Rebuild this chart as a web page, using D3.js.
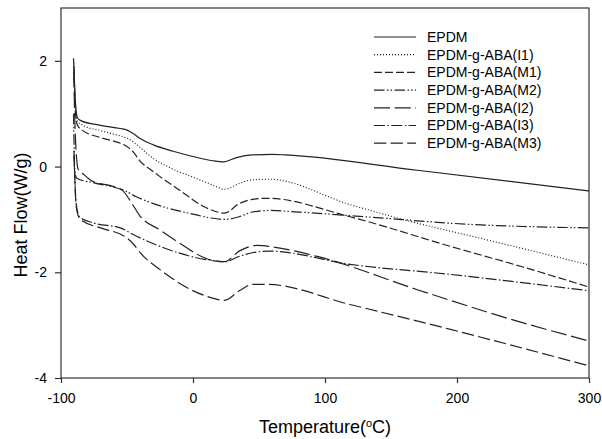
<!DOCTYPE html>
<html>
<head>
<meta charset="utf-8">
<script src="https://cdn.jsdelivr.net/npm/d3@7"></script>
<style>
  body { margin: 0; background: #fff; }
  text { font-family: "Liberation Sans", Arial, sans-serif; fill: #000; }
</style>
</head>
<body>
<div id="graph1"></div>
<script>
// series names as in the legend
const seriesNames = ["EPDM", "EPDM-g-ABA(I1)", "EPDM-g-ABA(M1)", "EPDM-g-ABA(M2)",
                     "EPDM-g-ABA(I2)", "EPDM-g-ABA(I3)", "EPDM-g-ABA(M3)"];

// [temperature, heat flow]
const epdm = [[-90.5,2.05],[-89,1.2],[-87.5,0.92],[-85,0.87],[-70,0.78],[-55,0.72],[-50,0.69],[-45,0.62],
  [-40,0.53],[-30,0.41],[-15,0.29],[0,0.19],[15,0.11],[23,0.09],[33,0.17],[45,0.22],[60,0.23],[70,0.22],
  [170,-0.07],[300,-0.46]];
const i1 = [[-90.3,1.95],[-89,1.1],[-87.5,0.86],[-84,0.79],[-70,0.68],[-55,0.58],[-50,0.54],[-40,0.36],
  [-32,0.19],[-15,-0.05],[0,-0.2],[15,-0.35],[24,-0.43],[35,-0.32],[45,-0.25],[58,-0.24],[119,-0.72],
  [159,-1.0],[230,-1.43],[300,-1.86]];
const m1 = [[-90.2,1.9],[-89,1.0],[-87.5,0.78],[-84,0.69],[-70,0.55],[-55,0.44],[-50,0.38],[-45,0.27],
  [-40,0.1],[-32,-0.06],[-25,-0.19],[-10,-0.45],[10,-0.78],[24,-0.88],[35,-0.7],[45,-0.62],[56,-0.6],
  [119,-0.95],[195,-1.51],[250,-1.9],[300,-2.28]];
const m2 = [[-90.5,1.0],[-89.5,-0.1],[-88,-0.22],[-75,-0.31],[-60,-0.39],[-53,-0.44],[-43,-0.57],[-30,-0.7],
  [-20,-0.78],[0,-0.9],[13,-0.97],[24,-1.0],[35,-0.95],[45,-0.86],[58,-0.83],[80,-0.86],[131,-0.95],
  [207,-1.09],[300,-1.16]];
const i2 = [[-90.4,1.8],[-89,0.5],[-87,-0.05],[-84,-0.12],[-76,-0.28],[-60,-0.38],[-53,-0.46],[-48,-0.63],
  [-40,-0.94],[-25,-1.2],[-10,-1.45],[10,-1.74],[24,-1.8],[35,-1.6],[49,-1.49],[60,-1.52],[94,-1.7],
  [170,-2.33],[245,-2.92],[300,-3.3]];
const i3 = [[-90.2,0.3],[-88.5,-0.7],[-86,-0.95],[-75,-1.07],[-55,-1.16],[-45,-1.29],[-25,-1.51],[10,-1.76],
  [24,-1.8],[35,-1.7],[45,-1.63],[58,-1.6],[119,-1.85],[195,-2.04],[300,-2.35]];
const m3 = [[-90.1,0.2],[-88.5,-0.75],[-86,-0.98],[-83,-1.04],[-70,-1.16],[-50,-1.35],[-45,-1.47],[-40,-1.63],
  [-25,-1.95],[10,-2.45],[24,-2.53],[35,-2.35],[45,-2.23],[56,-2.23],[119,-2.61],[195,-3.08],[300,-3.77]];

const xTicks = [-100, 0, 100, 200, 300];
const yTicks = [-4, -2, 0, 2];

const seriesData = [epdm, i1, m1, m2, i2, i3, m3];
const dashes = ["none", "1,2", "8,3", "10.5,2.5,1.5,2,1.5,2.5", "16,4.7", "11,2.5,1.5,2.3", "12.3,4.3"];

const margin = {top: 8, right: 13, bottom: 61, left: 61},
  width = 602 - margin.left - margin.right,
  height = 439 - margin.top - margin.bottom;

var svg = d3.select("#graph1")
  .append("svg")
  .attr("width", 602)
  .attr("height", 439)
  .append("g")
  .attr("transform", "translate(" + margin.left + "," + margin.top + ")");

var x = d3.scaleLinear().domain([-100, 300]).range([0, width]);
var y = d3.scaleLinear().domain([-4, 3]).range([height, 0]);

// frame
svg.append("rect")
  .attr("width", width)
  .attr("height", height)
  .attr("fill", "none")
  .attr("stroke", "#333")
  .attr("stroke-width", 1.2);

// plain hyphen for negatives, no decimals
var fmt = d => String(d);

svg.append("g")
  .attr("transform", "translate(0," + height + ")")
  .call(d3.axisBottom(x).tickValues(xTicks).tickFormat(fmt).tickSize(5).tickSizeOuter(0).tickPadding(10));
svg.append("g")
  .call(d3.axisLeft(y).tickValues(yTicks).tickFormat(fmt).tickSize(6).tickSizeOuter(0).tickPadding(8));

svg.selectAll(".domain").remove();
svg.selectAll(".tick line").attr("stroke", "#333").attr("stroke-width", 1.2);
svg.selectAll(".tick text")
  .style("font-size", "14px")
  .style("font-family", "'Liberation Sans', Arial, sans-serif")
  .attr("fill", "#000");

// curves
var line = d3.line()
  .x(d => x(d[0]))
  .y(d => y(d[1]))
  .curve(d3.curveMonotoneX);

svg.selectAll("path.curve")
  .data(seriesData)
  .enter()
  .append("path")
    .attr("class", "curve")
    .attr("d", line)
    .attr("fill", "none")
    .attr("stroke", "#222")
    .attr("stroke-width", 1.2)
    .attr("stroke-dasharray", (d, i) => dashes[i]);

// legend
var legend = svg.append("g").attr("transform", "translate(313,29)");
var rows = legend.selectAll("g")
  .data(seriesNames)
  .enter()
  .append("g")
    .attr("transform", (d, i) => "translate(0," + (i * 17.7) + ")");
rows.append("line")
  .attr("x1", 0).attr("x2", 42)
  .attr("stroke", "#222")
  .attr("stroke-width", 1.2)
  .attr("stroke-dasharray", (d, i) => dashes[i]);
rows.append("text")
  .attr("x", 53)
  .attr("dy", "0.35em")
  .style("font-size", "14px")
  .text(d => d);

// axis titles
var xt = svg.append("text")
  .attr("x", width / 2)
  .attr("y", height + 55)
  .attr("text-anchor", "middle")
  .style("font-size", "18px");
xt.append("tspan").text("Temperature(");
xt.append("tspan").attr("baseline-shift", "super").style("font-size", "11px").text("o");
xt.append("tspan").text("C)");

svg.append("text")
  .attr("transform", "translate(-34," + (215 - margin.top) + ")rotate(-90)")
  .attr("text-anchor", "middle")
  .style("font-size", "18px")
  .text("Heat Flow(W/g)");
</script>
</body>
</html>
